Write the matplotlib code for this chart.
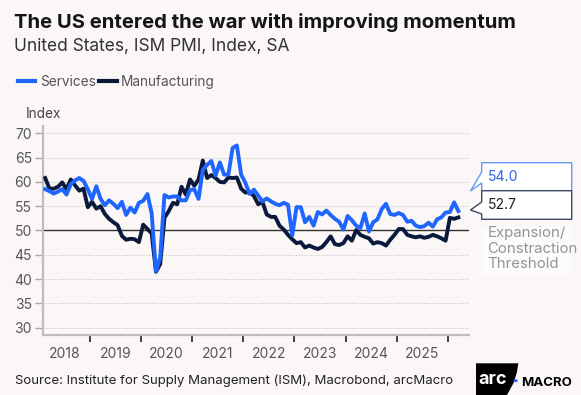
import numpy as np
import matplotlib
matplotlib.use("Agg")
import matplotlib.pyplot as plt
from matplotlib.patches import Polygon, Rectangle, Circle
from matplotlib.lines import Line2D

plt.rcParams['font.family'] = ['Inter', 'DejaVu Sans']

# ISM PMI, monthly, Feb 2018 - Mar 2026
start_year, start_month = 2018, 2
manufacturing = [
    60.8, 58.6, 58.6, 59.0, 59.9, 58.5, 60.5, 59.3, 58.2, 58.6, 54.8,
    55.9, 54.5, 55.0, 53.4, 52.4, 51.7, 51.1, 48.9, 48.1, 48.3, 48.2, 47.6,
    51.2, 50.3, 49.4, 41.5, 43.1, 52.6, 54.0, 55.7, 55.4, 59.0, 57.4, 60.5,
    59.2, 60.5, 64.4, 60.8, 61.4, 60.8, 60.0, 59.9, 60.9, 60.8, 60.9, 58.6,
    57.8, 57.9, 57.1, 55.4, 55.9, 53.3, 52.8, 52.8, 51.0, 50.2, 49.1, 48.2,
    47.4, 47.6, 46.5, 46.9, 46.5, 46.2, 46.6, 47.6, 48.8, 47.2, 47.0, 47.4,
    48.8, 47.9, 50.1, 49.1, 48.7, 48.4, 47.3, 47.6, 47.4, 46.9, 48.1, 49.1,
    50.3, 50.3, 49.1, 48.8, 48.6, 48.8, 48.5, 48.7, 49.1, 48.8, 48.4, 47.9,
    52.6, 52.4, 52.7,
]
services = [
    58.5, 58.1, 57.6, 58.0, 58.5, 57.4, 59.5, 60.3, 60.8, 60.2, 58.5,
    56.5, 59.1, 56.5, 55.2, 56.2, 55.5, 54.6, 55.9, 53.2, 54.7, 53.7, 55.7,
    56.1, 57.5, 53.5, 41.6, 44.5, 57.3, 56.8, 57.0, 57.0, 56.2, 56.2, 58.3,
    58.5, 56.5, 62.5, 63.5, 64.3, 61.3, 64.0, 61.5, 61.5, 67.0, 67.5, 61.5,
    59.8, 57.5, 58.4, 57.2, 56.0, 56.6, 56.0, 55.5, 55.2, 55.7, 55.3, 49.0,
    54.8, 54.8, 51.7, 52.8, 51.0, 53.8, 53.3, 54.1, 53.2, 52.4, 51.8, 50.2,
    53.0, 52.1, 51.0, 50.5, 53.5, 49.8, 51.7, 52.3, 54.4, 55.5, 53.4, 53.2,
    53.6, 53.2, 51.8, 52.0, 51.0, 50.7, 50.9, 51.6, 50.8, 52.3, 52.7, 53.7,
    53.8, 55.8, 54.0,
]
series_names = ["Services", "Manufacturing"]
year_labels = ["2018", "2019", "2020", "2021", "2022", "2023", "2024", "2025"]
y_ticks = [30, 35, 40, 45, 50, 55, 60, 65, 70]

BG = "#faf7f6"
BLUE = "#1f66ff"
NAVY = "#0b1a3c"

W, H = 581, 395


def fx(px):
    return px / W


def fy(py):
    return 1 - py / H


# month index -> decimal year (mid-month)
n = len(services)
x = start_year + (np.arange(n) + start_month - 1 + 0.5) / 12

fig = plt.figure(figsize=(W / 100, H / 100), dpi=100, facecolor=BG)
ax = fig.add_axes([fx(43), fy(335), fx(469) - fx(43), fy(126) - fy(335)])
ax.set_facecolor(BG)

ax.yaxis.grid(True, linestyle=(0, (1, 1.5)), color="#c4c4c4", linewidth=0.8)
ax.set_axisbelow(True)
ax.axhline(50, color="#333333", linewidth=1.0, zorder=2)

ax.plot(x, manufacturing, color=NAVY, linewidth=2.8, solid_joinstyle="round", zorder=3)
ax.plot(x, services, color=BLUE, linewidth=2.8, solid_joinstyle="round", zorder=4)

ax.set_xlim(2018.082, 2026.416)
ax.set_ylim(28.5, 71.5)

ax.set_yticks(y_ticks)
ax.tick_params(axis="y", length=6, width=1, color="#a8a8a8", pad=2,
               labelsize=10, labelcolor="#555555")

# year boundaries get tick marks, labels sit between them
ax.set_xticks(np.arange(2019, 2027))
ax.set_xticklabels([])
ax.set_xticks(np.arange(2018, 2026) + 0.5, minor=True)
ax.set_xticklabels(year_labels, minor=True)
ax.tick_params(axis="x", which="major", length=5, width=1.3, color="#333333", direction="out")
ax.tick_params(axis="x", which="minor", length=0, pad=9, labelsize=10, labelcolor="#555555")

for side in ["top", "right"]:
    ax.spines[side].set_visible(False)
ax.spines["left"].set_color("#bdbdbd")
ax.spines["left"].set_linewidth(1.6)
ax.spines["bottom"].set_color("#bdbdbd")
ax.spines["bottom"].set_linewidth(1.6)

# titles
fig.text(fx(14), fy(28.5), "The US entered the war with improving momentum",
         fontsize=14.6, fontweight="bold", color="#151515", va="baseline")
fig.text(fx(14), fy(51), "United States, ISM PMI, Index, SA",
         fontsize=12.5, color="#333333", va="baseline")

# legend
fig.add_artist(Line2D([fx(18), fx(35)], [fy(81), fy(81)], color=BLUE, linewidth=3))
fig.text(fx(40), fy(86), series_names[0], fontsize=9.8, color="#555555", va="baseline")
fig.add_artist(Line2D([fx(99), fx(117)], [fy(81), fy(81)], color=NAVY, linewidth=3))
fig.text(fx(121), fy(86), series_names[1], fontsize=9.8, color="#555555", va="baseline")

fig.text(fx(26), fy(118), "Index", fontsize=9.8, color="#444444", va="baseline")

# last-value callouts
bl, br = 481.7, 571.7
blue_box = [(bl, 162.7), (br, 162.7), (br, 190.7), (bl, 190.7), (bl, 183),
            (470.5, 191), (bl, 172)]
navy_box = [(bl, 190.7), (br, 190.7), (br, 219.3), (bl, 219.3), (bl, 214),
            (470.5, 210), (bl, 202)]
for pts, edge in [(blue_box, "#6b98f2"), (navy_box, "#3c4864")]:
    fig.add_artist(Polygon([(fx(a), fy(b)) for a, b in pts], closed=True,
                           facecolor="white", edgecolor=edge, linewidth=1.0))
fig.text(fx(488), fy(176.7), f"{services[-1]:.1f}", fontsize=10, color="#2f62e6", va="center")
fig.text(fx(488), fy(205), f"{manufacturing[-1]:.1f}", fontsize=10, color="#1c1c1c", va="center")

fig.add_artist(Rectangle((fx(bl), fy(275)), fx(br) - fx(bl), fy(226.7) - fy(275),
                         facecolor="white", edgecolor="none", alpha=0.6))
fig.text(fx(487.3), fy(226.5), "Expansion/\nConstraction\nThreshold", fontsize=10.8,
         color="#959595", va="top", linespacing=1.1)

# footer
fig.text(fx(15), fy(384), "Source: Institute for Supply Management (ISM), Macrobond, arcMacro",
         fontsize=9.5, color="#222222", va="baseline")

logo = [(476, 363.3), (518.3, 363.3), (517, 372), (513.5, 383), (507, 395), (476, 395)]
fig.add_artist(Polygon([(fx(a), fy(b)) for a, b in logo], closed=True,
                       facecolor="black", edgecolor="none"))
fig.text(fx(493), fy(380), "arc", fontsize=13, fontweight="bold", color="white",
         ha="center", va="center")
fig.add_artist(Circle((fx(515.5), fy(380.7)), 2.2 / W, facecolor=BLUE, edgecolor="none"))
fig.text(fx(521.5), fy(386), "MACRO", fontsize=9.5, fontweight="bold", color="black",
         va="baseline")

fig.savefig("out.png", dpi=100, facecolor=BG)
